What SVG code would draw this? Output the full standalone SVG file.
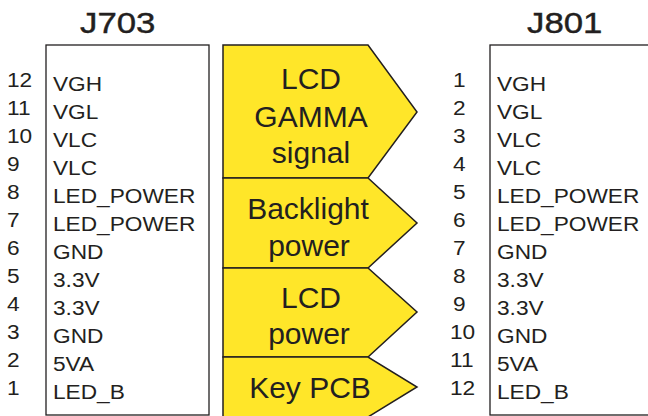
<svg xmlns="http://www.w3.org/2000/svg" width="648" height="416" viewBox="0 0 648 416">
<style>
text{font-family:"Liberation Sans",Arial,sans-serif;fill:#231f20}
.t{font-size:29px;stroke:#231f20;stroke-width:0.4}
.l{font-size:21px}
.n{font-size:21px}
.a{font-size:30px;text-anchor:middle}
.box{fill:#fff;stroke:#231f20;stroke-width:1.3}
.arr{fill:#ffe629;stroke:#231f20;stroke-width:1.5;stroke-linejoin:miter}
</style>
<g id="J703">
<text class="t" transform="translate(80,33) scale(1.2,1)">J703</text>
<rect class="box" x="46" y="45" width="163" height="370"/>
<text class="n" transform="translate(7,87) scale(1.08,1)">12</text>
<text class="n" transform="translate(7,115) scale(1.08,1)">11</text>
<text class="n" transform="translate(7,143) scale(1.08,1)">10</text>
<text class="n" transform="translate(7,171) scale(1.08,1)">9</text>
<text class="n" transform="translate(7,199) scale(1.08,1)">8</text>
<text class="n" transform="translate(7,227) scale(1.08,1)">7</text>
<text class="n" transform="translate(7,255) scale(1.08,1)">6</text>
<text class="n" transform="translate(7,283) scale(1.08,1)">5</text>
<text class="n" transform="translate(7,311) scale(1.08,1)">4</text>
<text class="n" transform="translate(7,339) scale(1.08,1)">3</text>
<text class="n" transform="translate(7,367) scale(1.08,1)">2</text>
<text class="n" transform="translate(7,395) scale(1.08,1)">1</text>
<text class="l" transform="translate(53,91) scale(1.08,1)">VGH</text>
<text class="l" transform="translate(53,119) scale(1.08,1)">VGL</text>
<text class="l" transform="translate(53,147) scale(1.08,1)">VLC</text>
<text class="l" transform="translate(53,175) scale(1.08,1)">VLC</text>
<text class="l" transform="translate(53,203) scale(1.08,1)">LED_POWER</text>
<text class="l" transform="translate(53,231) scale(1.08,1)">LED_POWER</text>
<text class="l" transform="translate(53,259) scale(1.08,1)">GND</text>
<text class="l" transform="translate(53,287) scale(1.08,1)">3.3V</text>
<text class="l" transform="translate(53,315) scale(1.08,1)">3.3V</text>
<text class="l" transform="translate(53,343) scale(1.08,1)">GND</text>
<text class="l" transform="translate(53,371) scale(1.08,1)">5VA</text>
<text class="l" transform="translate(53,399) scale(1.08,1)">LED_B</text>
</g>
<g id="J801">
<text class="t" transform="translate(527,33) scale(1.2,1)">J801</text>
<rect class="box" x="490" y="45" width="170" height="370"/>
<text class="n" transform="translate(453,87) scale(1.08,1)">1</text>
<text class="n" transform="translate(453,115) scale(1.08,1)">2</text>
<text class="n" transform="translate(453,143) scale(1.08,1)">3</text>
<text class="n" transform="translate(453,171) scale(1.08,1)">4</text>
<text class="n" transform="translate(453,199) scale(1.08,1)">5</text>
<text class="n" transform="translate(453,227) scale(1.08,1)">6</text>
<text class="n" transform="translate(453,255) scale(1.08,1)">7</text>
<text class="n" transform="translate(453,283) scale(1.08,1)">8</text>
<text class="n" transform="translate(453,311) scale(1.08,1)">9</text>
<text class="n" transform="translate(450,339) scale(1.08,1)">10</text>
<text class="n" transform="translate(450,367) scale(1.08,1)">11</text>
<text class="n" transform="translate(450,395) scale(1.08,1)">12</text>
<text class="l" transform="translate(497,91) scale(1.08,1)">VGH</text>
<text class="l" transform="translate(497,119) scale(1.08,1)">VGL</text>
<text class="l" transform="translate(497,147) scale(1.08,1)">VLC</text>
<text class="l" transform="translate(497,175) scale(1.08,1)">VLC</text>
<text class="l" transform="translate(497,203) scale(1.08,1)">LED_POWER</text>
<text class="l" transform="translate(497,231) scale(1.08,1)">LED_POWER</text>
<text class="l" transform="translate(497,259) scale(1.08,1)">GND</text>
<text class="l" transform="translate(497,287) scale(1.08,1)">3.3V</text>
<text class="l" transform="translate(497,315) scale(1.08,1)">3.3V</text>
<text class="l" transform="translate(497,343) scale(1.08,1)">GND</text>
<text class="l" transform="translate(497,371) scale(1.08,1)">5VA</text>
<text class="l" transform="translate(497,399) scale(1.08,1)">LED_B</text>
</g>
<g id="connectors">
<g id="lcd-gamma">
<path class="arr" d="M223,45 H368 L417,112 L368,178 H223 Z"/>
<text class="a" x="311" y="89">LCD</text>
<text class="a" x="311" y="127">GAMMA</text>
<text class="a" x="311" y="163">signal</text>
</g>
<g id="backlight">
<path class="arr" d="M223,178 H368 L417,223 L368,268 H223 Z"/>
<text class="a" x="308" y="219">Backlight</text>
<text class="a" x="309" y="256">power</text>
</g>
<g id="lcd-power">
<path class="arr" d="M223,268 H368 L417,312 L368,357 H223 Z"/>
<text class="a" x="311" y="308">LCD</text>
<text class="a" x="309" y="344">power</text>
</g>
<g id="key-pcb">
<path class="arr" d="M223,357 H368 L417,387 L368,417 H223 Z"/>
<text class="a" x="310" y="398">Key PCB</text>
</g>
</g>
</svg>
